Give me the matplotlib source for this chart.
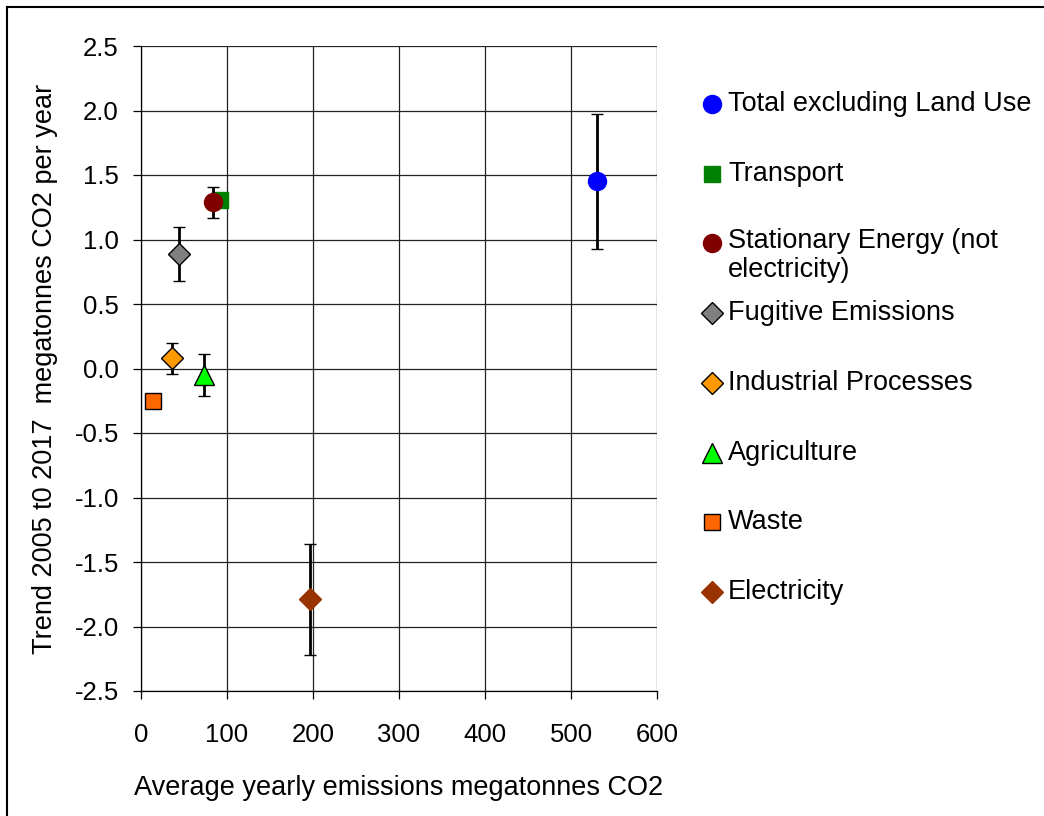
import matplotlib
matplotlib.use("Agg")
import matplotlib.pyplot as plt
from matplotlib.lines import Line2D

plt.rcParams['font.family'] = ['Liberation Sans', 'DejaVu Sans']

names = ["Total excluding Land Use", "Transport", "Stationary Energy (not\nelectricity)",
         "Fugitive Emissions", "Industrial Processes", "Agriculture", "Waste", "Electricity"]
x_vals = [530, 92, 84, 44, 36, 73, 14, 196]
y_vals = [1.45, 1.31, 1.29, 0.89, 0.08, -0.05, -0.25, -1.79]
y_err = [0.52, 0.0, 0.12, 0.21, 0.12, 0.165, 0.0, 0.43]
face_colors = ["#0000FF", "#008000", "#800000", "#808080", "#FF9900", "#00FF00", "#FF6600", "#993300"]
edge_colors = ["#0000FF", "#008000", "#800000", "#000000", "#000000", "#000000", "#000000", "#993300"]
markers = ["o", "s", "o", "D", "D", "^", "s", "D"]
msizes = [13, 11, 13, 11.5, 11.5, 15, 11, 11.5]

x_ticks = [0, 100, 200, 300, 400, 500, 600]
y_ticks = [-2.5, -2.0, -1.5, -1.0, -0.5, 0.0, 0.5, 1.0, 1.5, 2.0, 2.5]

W, H = 1044, 816
fig = plt.figure(figsize=(W / 100, H / 100), dpi=100)
ax = fig.add_axes([141 / W, 1 - 691 / H, (657 - 141) / W, (691 - 46) / H])

for i in range(len(names)):
    ax.errorbar(x_vals[i], y_vals[i], yerr=y_err[i], fmt=markers[i], color=face_colors[i],
                markerfacecolor=face_colors[i], markeredgecolor=edge_colors[i], markeredgewidth=1,
                markersize=msizes[i], ecolor='black', elinewidth=2, capsize=4.5, capthick=2,
                zorder=3 + i)

ax.set_xlim(0, 600)
ax.set_ylim(-2.5, 2.5)
ax.set_xticks(x_ticks)
ax.set_yticks(y_ticks)
ax.set_xticklabels([str(t) for t in x_ticks])
ax.set_yticklabels([f"{t:.1f}" for t in y_ticks])
ax.grid(True, color='#222222', linewidth=0.9)
ax.set_axisbelow(True)
for s in ['top', 'right']:
    ax.spines[s].set_visible(False)
for s in ['left', 'bottom']:
    ax.spines[s].set_color('black')
    ax.spines[s].set_linewidth(0.9)
ax.tick_params(axis='both', direction='out', length=6, width=0.9, labelsize=18.5, pad=10)
ax.tick_params(axis='x', pad=17)
ax.set_xlabel("Average yearly emissions megatonnes CO2", fontsize=19.5, labelpad=20)
ax.set_ylabel("Trend 2005 t0 2017  megatonnes CO2 per year", fontsize=19.5, labelpad=12)

# legend and frame drawn in pixel coordinates
lax = fig.add_axes([0, 0, 1, 1])
lax.set_xlim(0, W)
lax.set_ylim(H, 0)
lax.axis('off')
lax.add_line(Line2D([7, W], [7, 7], color='black', linewidth=1.5))
lax.add_line(Line2D([7, 7], [7, H], color='black', linewidth=1.5))
for i, nm in enumerate(names):
    yy = 104 + 69.7 * i
    lax.plot([712], [yy], marker=markers[i], markersize=msizes[i], markerfacecolor=face_colors[i],
             markeredgecolor=edge_colors[i], markeredgewidth=1, linestyle='none')
    if "\n" in nm:
        lax.text(728, yy - 15, nm, fontsize=19.5, va='top', ha='left', linespacing=1.15)
    else:
        lax.text(728, yy, nm, fontsize=19.5, va='center', ha='left')

fig.savefig("out.png", dpi=100)
